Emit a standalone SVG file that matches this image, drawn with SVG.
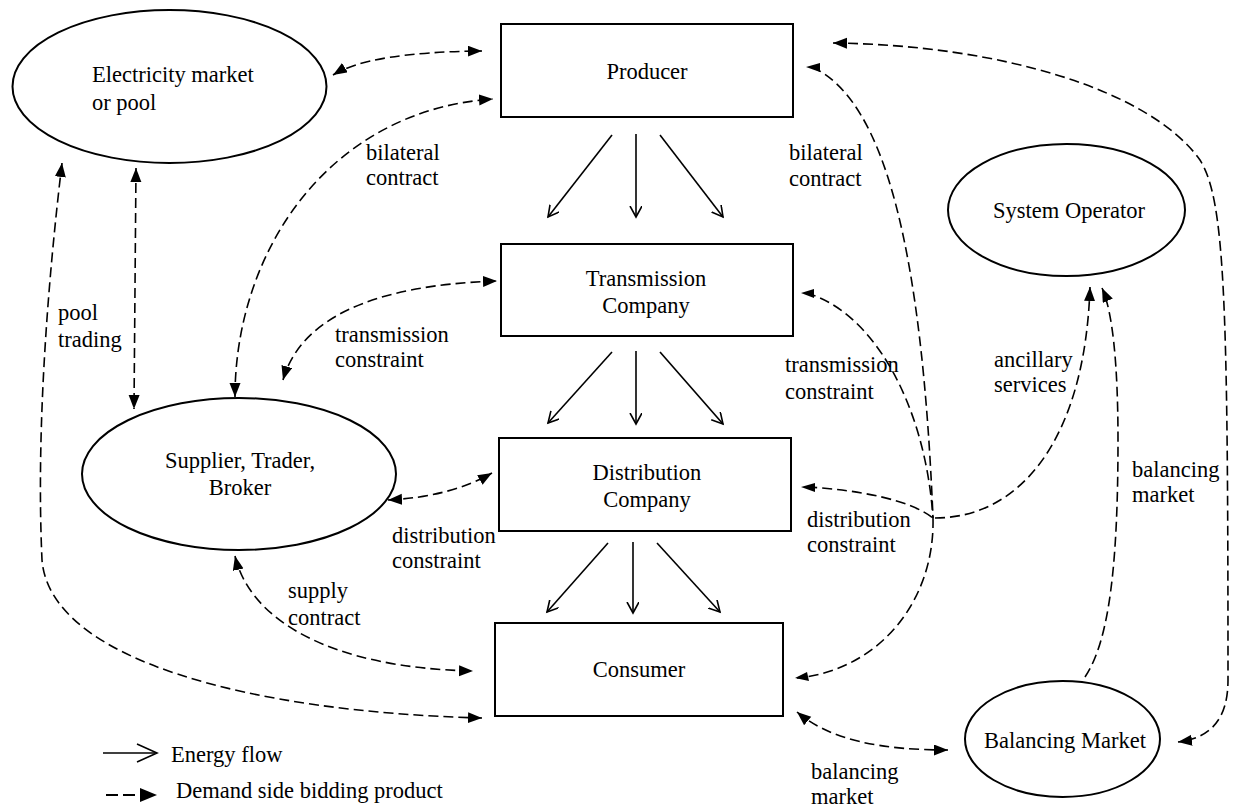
<svg xmlns="http://www.w3.org/2000/svg" width="1237" height="808" viewBox="0 0 1237 808">
<style>
text{font-family:"Liberation Serif","Times New Roman",serif;font-size:22.5px;fill:#000}
.node{fill:#fff;stroke:#000;stroke-width:2}
.c{text-anchor:middle}
.flow{fill:none;stroke:#000;stroke-width:1.6;marker-end:url(#open)}
.dash{fill:none;stroke:#000;stroke-width:1.6;stroke-dasharray:10 5}
.bi{marker-start:url(#tri);marker-end:url(#tri)}
.end{marker-end:url(#tri)}
</style>
<defs>
<marker id="tri" markerUnits="userSpaceOnUse" markerWidth="16" markerHeight="12" refX="14" refY="5.5" orient="auto-start-reverse"><path d="M0,0 L14,5.5 L0,11 z" fill="#000"/></marker>
<marker id="open" markerUnits="userSpaceOnUse" markerWidth="14" markerHeight="14" refX="11" refY="6" orient="auto"><path d="M0,0 L11,6 L0,12" fill="none" stroke="#000" stroke-width="1.6"/></marker>
</defs>
<rect width="1237" height="808" fill="#fff"/>

<g id="connectors">
<!-- energy flows -->
<path class="flow" d="M612,135 L548,217"/>
<path class="flow" d="M636,134 L636,217"/>
<path class="flow" d="M660,135 L723,217"/>
<path class="flow" d="M612,352 L548,423"/>
<path class="flow" d="M636,351 L636,424"/>
<path class="flow" d="M660,352 L723,424"/>
<path class="flow" d="M608,543 L547,612"/>
<path class="flow" d="M633,542 L633,613"/>
<path class="flow" d="M657,543 L720,612"/>
<!-- demand side bidding -->
<path class="dash bi" d="M333,75 Q370,52 482,51"/>
<path class="dash bi" d="M235,397 C235,250 330,110 493,99"/>
<path class="dash bi" d="M136,168 L134,409"/>
<path class="dash bi" d="M62,163 C48,280 36,430 42,560 C50,660 250,712 482,718"/>
<path class="dash bi" d="M283,380 C300,320 370,285 497,281"/>
<path class="dash bi" d="M388,500 Q450,497 492,473"/>
<path class="dash bi" d="M235,556 C250,620 330,668 473,671"/>
<path class="dash bi" d="M797,712 C830,740 880,750 948,750"/>
<path class="dash end" d="M1085,677 C1110,640 1118,560 1118,440 C1118,360 1112,310 1102,288"/>
<path class="dash end" d="M935,518 C1020,518 1085,440 1090,287"/>
<path class="dash" d="M812,67 C885,100 922,250 933,518"/>
<path class="dash" d="M806,293 C870,310 925,400 933,518"/>
<path class="dash" d="M807,487 C860,490 910,500 933,518"/>
<path class="dash" d="M933,518 C935,600 880,670 797,678"/>
<path d="M820,63 L806,67 L820,72 z" fill="#000"/>
<path d="M814,289 L801,293 L814,298 z" fill="#000"/>
<path d="M815,483 L801,487 L815,492 z" fill="#000"/>
<path d="M807,672 L795,678 L809,681 z" fill="#000"/>
<path class="dash bi" d="M833,43 C1000,45 1150,90 1200,160 C1225,200 1228,300 1228,680 C1228,720 1210,738 1178,742"/>
</g>

<g id="electricity-market">
<ellipse class="node" cx="169.5" cy="86.5" rx="157" ry="76.5"/>
<text x="92" y="82">Electricity market</text>
<text x="92" y="110">or pool</text>
</g>
<g id="producer">
<rect class="node" x="501" y="24" width="292" height="93"/>
<text class="c" x="647" y="79">Producer</text>
</g>
<g id="transmission">
<rect class="node" x="501" y="244" width="292" height="92"/>
<text class="c" x="646" y="286">Transmission</text>
<text class="c" x="646" y="313">Company</text>
</g>
<g id="distribution">
<rect class="node" x="499" y="438" width="292" height="93"/>
<text class="c" x="647" y="480">Distribution</text>
<text class="c" x="647" y="507">Company</text>
</g>
<g id="consumer">
<rect class="node" x="495" y="623" width="288" height="93"/>
<text class="c" x="639" y="677">Consumer</text>
</g>
<g id="supplier">
<ellipse class="node" cx="239" cy="474" rx="157" ry="76"/>
<text class="c" x="240" y="468">Supplier, Trader,</text>
<text class="c" x="240" y="495">Broker</text>
</g>
<g id="system-operator">
<ellipse class="node" cx="1066.5" cy="210" rx="118.5" ry="66"/>
<text class="c" x="1069" y="218">System Operator</text>
</g>
<g id="balancing-market">
<ellipse class="node" cx="1062.5" cy="739" rx="97.5" ry="58"/>
<text class="c" x="1065" y="748">Balancing Market</text>
</g>

<g id="labels">
<text x="366" y="160">bilateral</text>
<text x="366" y="185">contract</text>
<text x="58" y="320">pool</text>
<text x="58" y="347">trading</text>
<text x="335" y="342">transmission</text>
<text x="335" y="367">constraint</text>
<text x="392" y="543">distribution</text>
<text x="392" y="568">constraint</text>
<text x="288" y="598">supply</text>
<text x="288" y="625">contract</text>
<text x="811" y="779">balancing</text>
<text x="811" y="804">market</text>
<text x="789" y="160">bilateral</text>
<text x="789" y="186">contract</text>
<text x="785" y="372">transmission</text>
<text x="785" y="399">constraint</text>
<text x="807" y="527">distribution</text>
<text x="807" y="552">constraint</text>
<text x="994" y="367">ancillary</text>
<text x="994" y="392">services</text>
<text x="1132" y="477">balancing</text>
<text x="1132" y="502">market</text>
</g>

<g id="legend">
<path d="M103,753 L155,753" stroke="#000" stroke-width="1.6" fill="none"/>
<path d="M137,744 L157,753 L137,762" stroke="#000" stroke-width="1.6" fill="none"/>
<text x="171" y="762">Energy flow</text>
<path d="M106,795 L142,795" stroke="#000" stroke-width="2.2" stroke-dasharray="12 5" fill="none"/>
<path d="M140,788 L157,795 L140,802 z" fill="#000"/>
<text x="176" y="798">Demand side bidding product</text>
</g>
</svg>
